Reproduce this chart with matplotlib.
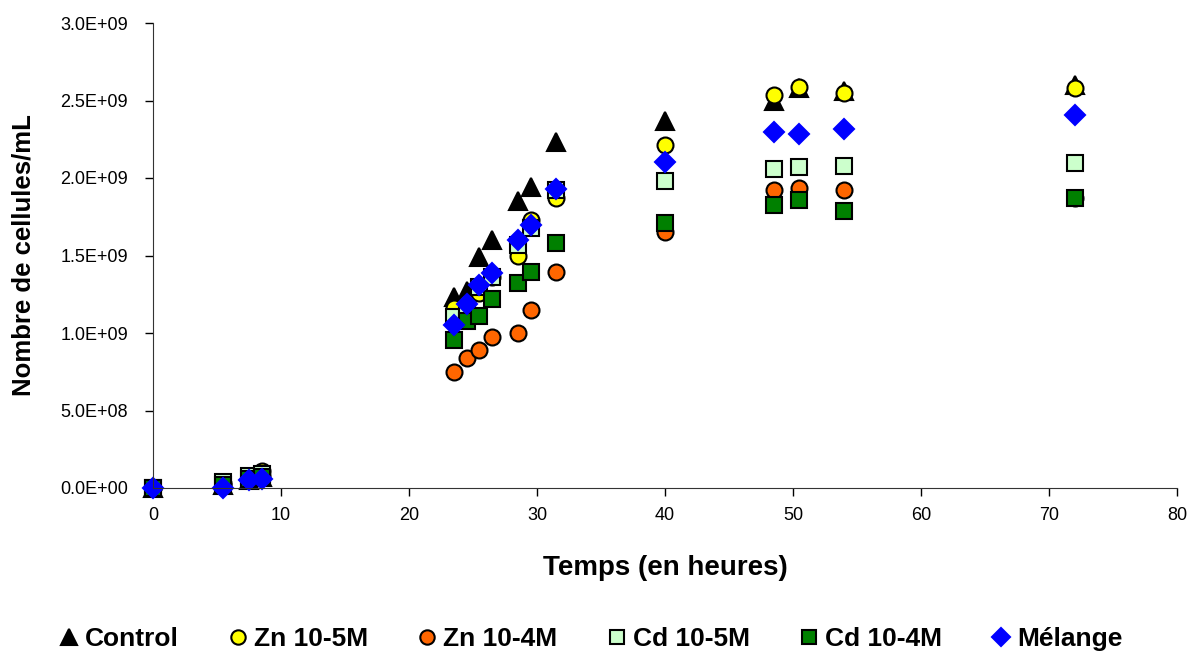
import numpy as np
import matplotlib.pyplot as plt

plt.rcParams['font.family'] = ['Liberation Sans', 'DejaVu Sans']

## the data
temps = [0, 5.5, 7.5, 8.5, 23.5, 24.5, 25.5, 26.5, 28.5, 29.5, 31.5, 40, 48.5, 50.5, 54, 72]

control = [0.0, 0.02, 0.05, 0.07, 1.235, 1.27, 1.49, 1.60, 1.85, 1.94, 2.235, 2.37, 2.50, 2.58, 2.56, 2.60]
zn_5 = [0.0, 0.03, 0.07, 0.11, 1.16, 1.20, 1.26, 1.36, 1.50, 1.73, 1.87, 2.21, 2.535, 2.59, 2.55, 2.58]
zn_4 = [0.0, 0.02, 0.05, 0.08, 0.75, 0.837, 0.89, 0.976, 1.00, 1.15, 1.395, 1.65, 1.92, 1.935, 1.92, 1.87]
cd_5 = [0.0, 0.04, 0.08, 0.09, 1.105, 1.15, 1.30, 1.36, 1.57, 1.68, 1.92, 1.98, 2.055, 2.07, 2.08, 2.10]
cd_4 = [0.0, 0.02, 0.06, 0.07, 0.955, 1.08, 1.11, 1.22, 1.32, 1.395, 1.58, 1.71, 1.826, 1.86, 1.79, 1.87]
melange = [0.0, 0.0, 0.05, 0.06, 1.05, 1.19, 1.31, 1.385, 1.60, 1.70, 1.93, 2.105, 2.295, 2.284, 2.314, 2.406]

labels = ['Control', 'Zn 10-5M', 'Zn 10-4M', 'Cd 10-5M', 'Cd 10-4M', 'Mélange']
series = [control, zn_5, zn_4, cd_5, cd_4, melange]
ytick_vals = [0, 0.5e9, 1.0e9, 1.5e9, 2.0e9, 2.5e9, 3.0e9]
ytick_labels = ['0.0E+00', '5.0E+08', '1.0E+09', '1.5E+09', '2.0E+09', '2.5E+09', '3.0E+09']

## styles
styles = [
    dict(marker='^', color='black', mec='black', ms=13),
    dict(marker='o', color='#FFFF00', mec='black', ms=11.5),
    dict(marker='o', color='#FF6600', mec='black', ms=11.5),
    dict(marker='s', color='#CCFFCC', mec='black', ms=11),
    dict(marker='s', color='#008000', mec='black', ms=11),
    dict(marker='D', color='#0000FF', mec='#0000FF', ms=10),
]

fig = plt.figure(figsize=(11.9, 6.53), dpi=100)
ax = fig.add_axes([153/1190, 1 - 488/653, 1024/1190, 465/653])

handles = []
for vals, lab, st in zip(series, labels, styles):
    h, = ax.plot(temps, np.array(vals) * 1e9, linestyle='none', mew=1.5,
                 label=lab, clip_on=False, **st)
    handles.append(h)

# axes and labels
ax.set_xlim(0, 80)
ax.set_ylim(0, 3.0e9)
ax.set_xticks(np.arange(0, 81, 10))
ax.set_yticks(ytick_vals)
ax.set_yticklabels(ytick_labels)
ax.tick_params(axis='both', direction='out', length=6, width=1, labelsize=13, colors='black')
ax.tick_params(axis='x', pad=8)
ax.tick_params(axis='y', pad=12)
ax.spines['top'].set_visible(False)
ax.spines['right'].set_visible(False)
ax.spines['left'].set_color('#333333')
ax.spines['bottom'].set_color('#333333')

ax.set_xlabel('Temps (en heures)', fontsize=20, fontweight='bold', labelpad=22)
ax.set_ylabel('Nombre de cellules/mL', fontsize=18.5, fontweight='bold', labelpad=18)

## add a legend
fig.legend(handles, labels, loc='center', bbox_to_anchor=(0.495, 1 - 639/653), ncol=6,
           frameon=False, prop=dict(size=19, weight='bold'), handletextpad=0.1,
           columnspacing=1.75, markerscale=0.9, handlelength=1.0)

fig.savefig('out.png', dpi=100)
